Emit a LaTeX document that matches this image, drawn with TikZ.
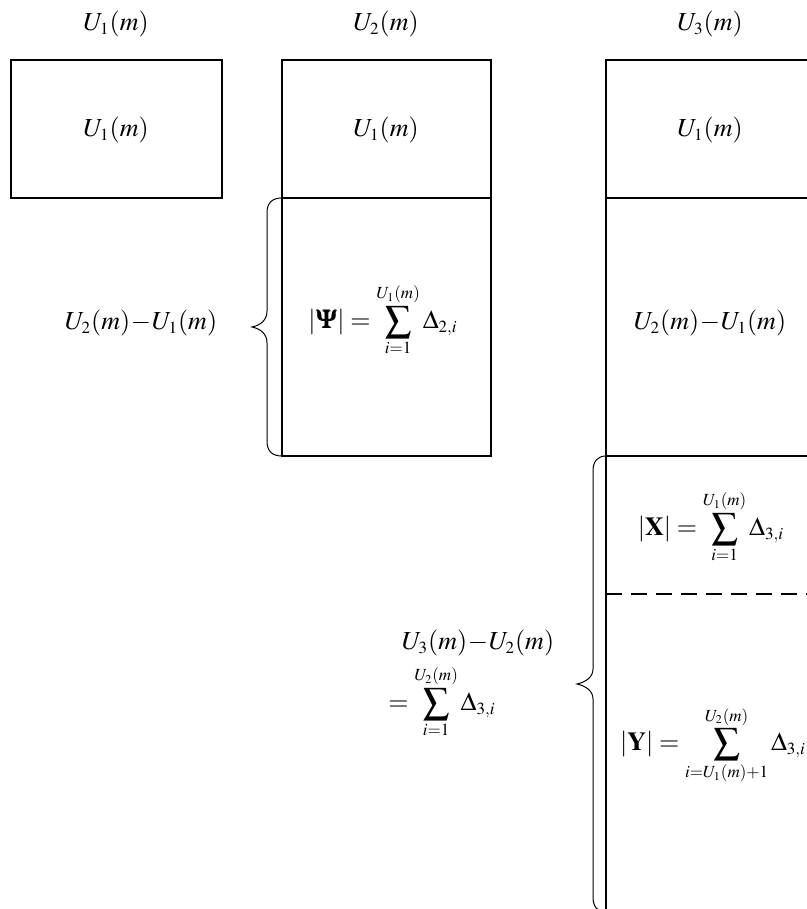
\documentclass[tikz,border=0pt]{standalone}
\usepackage{mathptmx}
\usepackage{bm}
\DeclareMathSizes{13}{13}{8.5}{6}
\begin{document}
\begin{tikzpicture}[x=0.5pt,y=-0.5pt,font=\fontsize{13}{15}\selectfont,
  box/.style={line width=1pt},
  curly/.style={line width=0.5pt}]
\useasboundingbox (0,0) rectangle (807,909);
\clip (0,0) rectangle (807,909);
% boxes
\draw[box] (11,60) rectangle (222,198);
\draw[box] (282,60) rectangle (491,456);
\draw[box] (282,198) -- (491,198);
\draw[box] (606,60) rectangle (815,930);
\draw[box] (606,198) -- (815,198);
\draw[box] (606,456) -- (815,456);
\draw[box,dash pattern=on 8pt off 4.5pt] (606,594) -- (815,594);
% braces
\draw[curly] (282,198) .. controls (272,198) and (267,203) .. (267,213) -- (267,311)
  .. controls (267,320) and (261,325) .. (252,327) .. controls (261,329) and (267,334) .. (267,343)
  -- (267,441) .. controls (267,451) and (272,456) .. (282,456);
\draw[curly] (606,456) .. controls (597,456) and (593,462) .. (593,471) -- (593,669)
  .. controls (593,677) and (586,682) .. (577,684) .. controls (586,686) and (593,691) .. (593,699)
  -- (593,897) .. controls (593,906) and (597,912) .. (606,912);
% labels
\node (top1) at (116,24) {$U_1(m)$};
\node (top2) at (386,24) {$U_2(m)$};
\node (top3) at (710,24) {$U_3(m)$};
\node (in1) at (116,130) {$U_1(m)$};
\node (in2) at (386,130) {$U_1(m)$};
\node (in3) at (710,130) {$U_1(m)$};
\node (diff2) at (141,323) {$U_2(m)\!-\!U_1(m)$};
\node (psi) at (383,320) {$\left|\bm{\Psi}\right| = \displaystyle\sum_{i=1}^{U_1(m)} \Delta_{2,i}$};
\node (diff3) at (710,323) {$U_2(m)\!-\!U_1(m)$};
\node (setx) at (711,527) {$\left|\mathbf{X}\right| = \displaystyle\sum_{i=1}^{U_1(m)} \Delta_{3,i}$};
\node (sety) at (713,745) {$\left|\mathbf{Y}\right| = \displaystyle\sum_{i=U_1(m)+1}^{U_2(m)} \Delta_{3,i}$};
\node (diff32) at (478,643) {$U_3(m)\!-\!U_2(m)$};
\node[anchor=west,inner sep=0pt] (sum32) at (388,702) {$= \displaystyle\sum_{i=1}^{U_2(m)} \Delta_{3,i}$};
\end{tikzpicture}
\end{document}
